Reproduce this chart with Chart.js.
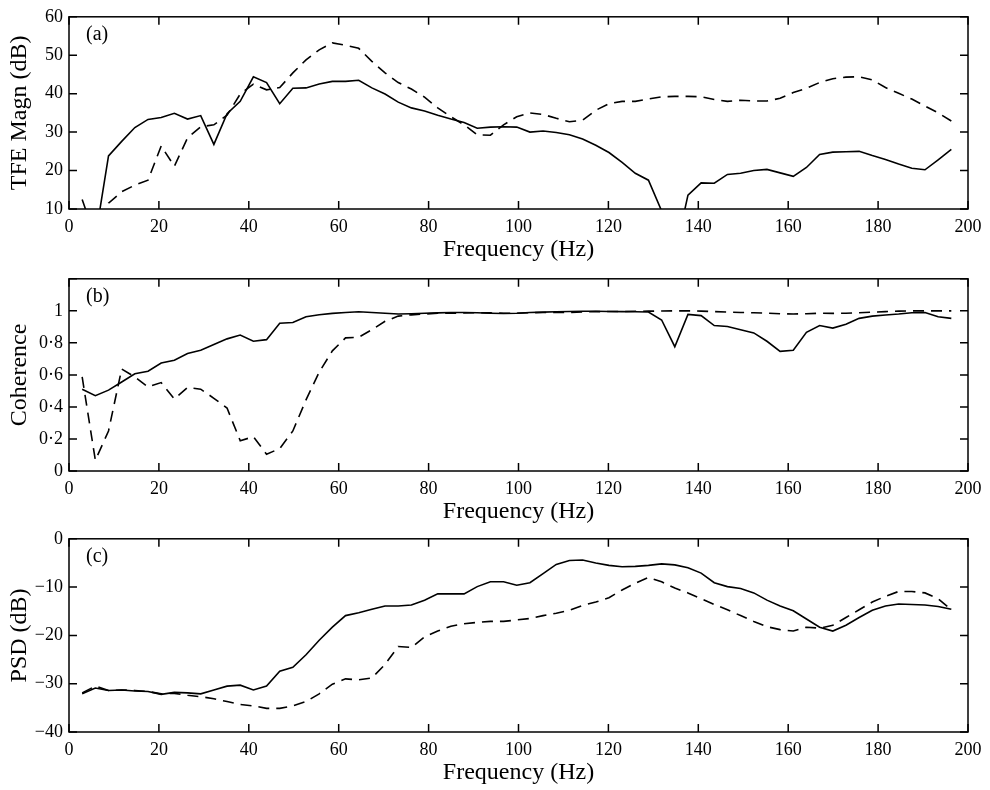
<!DOCTYPE html>
<html>
<head>
<meta charset="utf-8">
<script src="https://cdn.jsdelivr.net/npm/chart.js@4"></script>
<style>
  html, body { margin: 0; padding: 0; background: #fff; overflow: hidden; }
  #wrap { position: relative; width: 990px; height: 790px; }
  #wrap canvas { position: absolute; left: 0; }
</style>
</head>
<body>
<div id="wrap">
  <canvas id="panelA" width="990" height="267" style="top:0px"></canvas>
  <canvas id="panelB" width="990" height="267" style="top:262px"></canvas>
  <canvas id="panelC" width="990" height="268" style="top:522px"></canvas>
</div>
<script>
// frequency bins (Hz)
var freq = [2.93, 5.86, 8.79, 11.72, 14.65, 17.58, 20.51, 23.44, 26.37, 29.30,
  32.23, 35.16, 38.09, 41.02, 43.95, 46.88, 49.80, 52.73, 55.66, 58.59,
  61.52, 64.45, 67.38, 70.31, 73.24, 76.17, 79.10, 82.03, 84.96, 87.89,
  90.82, 93.75, 96.68, 99.61, 102.54, 105.47, 108.40, 111.33, 114.26, 117.19,
  120.12, 123.05, 125.98, 128.91, 131.84, 134.77, 137.70, 140.63, 143.55, 146.48,
  149.41, 152.34, 155.27, 158.20, 161.13, 164.06, 166.99, 169.92, 172.85, 175.78,
  178.71, 181.64, 184.57, 187.50, 190.43, 193.36, 196.29];

// (a) TFE magnitude, dB
var tfeSolid = [12.5, 2.5, 23.8, 27.6, 31.2, 33.3, 33.8, 34.9, 33.4, 34.3,
  26.8, 34.8, 38.0, 44.4, 42.9, 37.4, 41.4, 41.5, 42.5, 43.2,
  43.2, 43.5, 41.5, 39.9, 37.8, 36.3, 35.5, 34.4, 33.4, 32.5,
  31.0, 31.3, 31.4, 31.3, 30.0, 30.3, 29.9, 29.3, 28.2, 26.6,
  24.7, 22.1, 19.3, 17.5, 9.5, -2.0, 13.6, 16.8, 16.7, 19.0,
  19.3, 20.0, 20.3, 19.4, 18.5, 20.8, 24.2, 24.8, 24.9, 25.0,
  23.9, 22.9, 21.7, 20.6, 20.2, 22.8, 25.5];
var tfeDashed = [4.0, 2.0, 11.5, 14.5, 16.2, 17.5, 26.4, 21.1, 28.5, 31.4,
  31.9, 34.4, 39.9, 42.5, 41.0, 41.6, 45.4, 48.8, 51.4, 53.2,
  52.6, 51.8, 48.4, 45.4, 42.9, 41.2, 39.1, 36.3, 34.0, 31.9,
  29.3, 29.2, 31.9, 34.0, 35.0, 34.6, 33.6, 32.7, 33.1, 35.7,
  37.4, 38.0, 38.0, 38.6, 39.2, 39.3, 39.3, 39.2, 38.5, 38.0,
  38.3, 38.1, 38.1, 38.8, 40.3, 41.4, 42.9, 43.9, 44.3, 44.4,
  43.6, 41.6, 40.1, 38.6, 36.8, 35.0, 32.9];

// (b) coherence
var cohSolid = [0.51, 0.47, 0.505, 0.556, 0.607, 0.623, 0.674, 0.692, 0.733, 0.754,
  0.79, 0.825, 0.849, 0.81, 0.82, 0.923, 0.927, 0.963, 0.976, 0.984,
  0.99, 0.994, 0.99, 0.985, 0.98, 0.982, 0.985, 0.987, 0.99, 0.99,
  0.988, 0.985, 0.983, 0.985, 0.99, 0.992, 0.994, 0.996, 0.997, 0.997,
  0.996, 0.995, 0.994, 0.993, 0.943, 0.776, 0.978, 0.97, 0.908, 0.902,
  0.882, 0.862, 0.81, 0.747, 0.754, 0.866, 0.908, 0.892, 0.916, 0.953,
  0.967, 0.974, 0.98, 0.988, 0.99, 0.963, 0.953];
var cohDashed = [0.587, 0.067, 0.25, 0.637, 0.587, 0.525, 0.552, 0.45, 0.521, 0.511,
  0.454, 0.393, 0.189, 0.214, 0.105, 0.14, 0.25, 0.444, 0.617, 0.75,
  0.831, 0.835, 0.882, 0.935, 0.967, 0.975, 0.98, 0.985, 0.985, 0.987,
  0.988, 0.987, 0.985, 0.985, 0.988, 0.99, 0.99, 0.99, 0.993, 0.995,
  0.996, 0.996, 0.997, 0.998, 0.999, 1.0, 1.0, 0.998, 0.995, 0.992,
  0.99, 0.988, 0.985, 0.982, 0.98, 0.982, 0.985, 0.984, 0.985, 0.988,
  0.992, 0.995, 0.998, 1.0, 1.0, 1.0, 1.0];

// (c) PSD, dB
var psdSolid = [-32.1, -30.9, -31.4, -31.3, -31.5, -31.6, -32.2, -31.8, -31.9, -32.1,
  -31.3, -30.5, -30.3, -31.3, -30.5, -27.4, -26.6, -24.0, -21.0, -18.3,
  -15.9, -15.3, -14.6, -13.9, -13.9, -13.7, -12.7, -11.4, -11.4, -11.4,
  -9.9, -8.9, -8.9, -9.6, -9.1, -7.2, -5.3, -4.5, -4.4, -5.0,
  -5.5, -5.8, -5.7, -5.5, -5.2, -5.4, -6.0, -7.1, -9.1, -9.9,
  -10.3, -11.2, -12.7, -13.9, -14.9, -16.6, -18.3, -19.1, -17.9, -16.3,
  -14.8, -13.9, -13.5, -13.6, -13.7, -14.0, -14.6];
var psdDashed = [-31.9, -30.5, -31.4, -31.3, -31.4, -31.6, -32.1, -32.0, -32.4, -32.7,
  -33.1, -33.7, -34.3, -34.6, -35.1, -35.1, -34.6, -33.7, -32.1, -30.1,
  -29.0, -29.2, -28.8, -26.0, -22.3, -22.5, -20.3, -19.1, -18.1, -17.6,
  -17.3, -17.1, -17.1, -16.8, -16.5, -15.9, -15.4, -14.8, -13.8, -13.1,
  -12.2, -10.6, -9.2, -8.0, -8.9, -10.2, -11.2, -12.4, -13.6, -14.7,
  -15.9, -17.1, -18.2, -18.8, -19.1, -18.3, -18.5, -17.9, -16.3, -14.7,
  -13.1, -11.9, -10.9, -10.9, -11.2, -12.4, -14.7];

var serif = '"Liberation Serif", "Times New Roman", serif';

// box round the plot + inward ticks on all four sides + panel letter
var framePlugin = {
  id: 'frame',
  afterDatasetsDraw: function(chart, args, opts) {
    var ctx = chart.ctx, a = chart.chartArea;
    var xs = chart.scales.x, ys = chart.scales.y;
    var len = 8;
    ctx.save();
    ctx.strokeStyle = '#000';
    ctx.lineWidth = 1.5;
    ctx.strokeRect(a.left, a.top, a.right - a.left, a.bottom - a.top);
    ctx.beginPath();
    xs.ticks.forEach(function(t) {
      var px = xs.getPixelForValue(t.value);
      ctx.moveTo(px, a.bottom); ctx.lineTo(px, a.bottom - len);
      ctx.moveTo(px, a.top); ctx.lineTo(px, a.top + len);
    });
    ys.ticks.forEach(function(t) {
      var py = ys.getPixelForValue(t.value);
      ctx.moveTo(a.left, py); ctx.lineTo(a.left + len, py);
      ctx.moveTo(a.right, py); ctx.lineTo(a.right - len, py);
    });
    ctx.stroke();
    ctx.fillStyle = '#000';
    ctx.font = '20px ' + serif;
    ctx.textBaseline = 'middle';
    ctx.textAlign = 'left';
    ctx.fillText(opts.tag, a.left + 17, a.top + 18);
    ctx.restore();
  }
};

function series(vals) {
  return freq.map(function(f, i) { return { x: f, y: vals[i] }; });
}

function makePanel(id, tag, yTitle, yMin, yMax, yStep, yFmt, solid, dashed) {
  var ctx = document.getElementById(id).getContext('2d');
  return new Chart(ctx, {
    type: 'line',
    data: {
      datasets: [{
        data: series(solid),
        borderColor: '#000',
        borderWidth: 1.6,
        pointRadius: 0,
        tension: 0,
        fill: false
      }, {
        data: series(dashed),
        borderColor: '#000',
        borderWidth: 1.6,
        borderDash: [11, 7],
        pointRadius: 0,
        tension: 0,
        fill: false
      }]
    },
    options: {
      responsive: false,
      animation: false,
      layout: { padding: { top: 12, right: 22, left: 0, bottom: 0 } },
      plugins: {
        legend: { display: false },
        tooltip: { enabled: false },
        frame: { tag: tag }
      },
      scales: {
        x: {
          type: 'linear',
          min: 0,
          max: 200,
          grid: { display: false, drawTicks: false },
          border: { display: false },
          ticks: {
            stepSize: 20,
            autoSkip: false,
            maxRotation: 0,
            padding: 7,
            color: '#000',
            font: { family: serif, size: 18 }
          },
          title: {
            display: true,
            text: 'Frequency (Hz)',
            color: '#000',
            font: { family: serif, size: 24 },
            padding: { top: 0, bottom: 3 }
          },
          afterFit: function(s) { s.height = 58; }
        },
        y: {
          min: yMin,
          max: yMax,
          grid: { display: false, drawTicks: false },
          border: { display: false },
          ticks: {
            stepSize: yStep,
            autoSkip: false,
            padding: 6,
            color: '#000',
            font: { family: serif, size: 18 },
            callback: yFmt
          },
          title: {
            display: true,
            text: yTitle,
            color: '#000',
            font: { family: serif, size: 24 },
            padding: { top: 5, bottom: 0 }
          },
          afterFit: function(s) { s.width = 69; }
        }
      }
    },
    plugins: [framePlugin]
  });
}

function plainFmt(v) {
  return v < 0 ? '\u2212' + Math.abs(v) : String(v);
}
function cohFmt(v) {
  if (Math.abs(v - 1.2) < 1e-6) return '';
  if (Math.abs(v) < 1e-6) return '0';
  if (Math.abs(v - 1) < 1e-6) return '1';
  return v.toFixed(1).replace('.', '\u00b7');
}

makePanel('panelA', '(a)', 'TFE Magn (dB)', 10, 60, 10, plainFmt, tfeSolid, tfeDashed);
makePanel('panelB', '(b)', 'Coherence', 0, 1.2, 0.2, cohFmt, cohSolid, cohDashed);
makePanel('panelC', '(c)', 'PSD (dB)', -40, 0, 10, plainFmt, psdSolid, psdDashed);
</script>
</body>
</html>
